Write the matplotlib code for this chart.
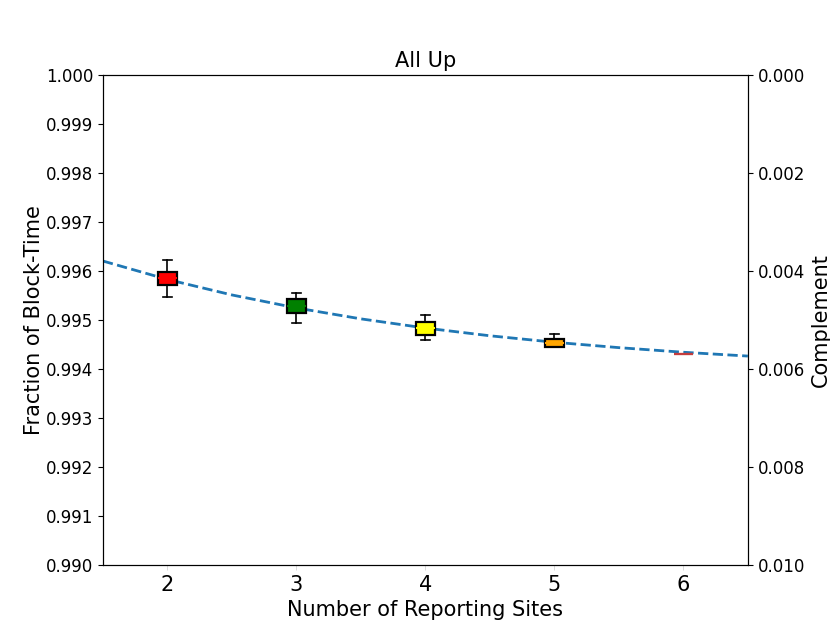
import matplotlib

matplotlib.use("Agg")

import matplotlib.pyplot as plt

# positions des sites et statistiques des boîtes
sites = [2, 3, 4, 5, 6]
whisker_low = [0.995469, 0.994939, 0.994592, 0.994449, 0.994306]
box_low = [0.995714, 0.995149, 0.994694, 0.994449, 0.994306]
box_med = [0.995850, 0.995280, 0.994830, 0.994540, 0.994306]
box_high = [0.995980, 0.995422, 0.994953, 0.994606, 0.994306]
whisker_high = [0.996224, 0.995557, 0.995108, 0.994720, 0.994306]
box_colors = ["red", "green", "yellow", "orange", "#c43c3c"]

# courbe en pointillés
curve_x = [1.5, 2.0, 2.5, 3.0, 3.5, 4.0, 4.5, 5.0, 5.5, 6.0, 6.5]
curve_y = [0.996204, 0.995828, 0.995512, 0.995247, 0.995024, 0.994837,
           0.994679, 0.994547, 0.994437, 0.994343, 0.994265]

fig = plt.figure(figsize=(8.3, 6.35), dpi=100)
ax = fig.add_axes([0.124, 0.110, 0.777, 0.772])

ax.plot(curve_x, curve_y, linestyle="--", color="#1f77b4", linewidth=2, zorder=1)

stats = []
for i in range(len(sites)):
    stats.append({
        "whislo": whisker_low[i], "q1": box_low[i], "med": box_med[i],
        "q3": box_high[i], "whishi": whisker_high[i], "fliers": [],
    })

bp = ax.bxp(stats, positions=sites, widths=0.15, patch_artist=True,
            showfliers=False, manage_ticks=False, zorder=2)
for patch, col in zip(bp["boxes"], box_colors):
    patch.set_facecolor(col)
    patch.set_edgecolor("black")
    patch.set_linewidth(1.6)
for med, col in zip(bp["medians"], box_colors):
    med.set_color(col)
    med.set_linewidth(1.5)
bp["boxes"][-1].set_edgecolor(box_colors[-1])
for w in bp["whiskers"] + bp["caps"]:
    w.set_color("black")
    w.set_linewidth(1.2)

ax.set_xlim(1.5, 6.5)
ax.set_ylim(0.990, 1.000)
ax.set_xticks(sites)
ax.set_xticklabels([str(s) for s in sites], fontsize=15)
ax.tick_params(axis="x", color="#cccccc", width=0.5, length=3.5)
ax.set_yticks([0.990 + 0.001 * i for i in range(11)])
ax.set_yticklabels(["%.3f" % (0.990 + 0.001 * i) for i in range(11)], fontsize=12)
ax.set_xlabel("Number of Reporting Sites", fontsize=15)
ax.set_ylabel("Fraction of Block-Time", fontsize=15, labelpad=1)
ax.set_title("All Up", fontsize=15)

ax2 = ax.twinx()
ax2.set_ylim(0.010, 0.000)
ax2.set_yticks([0.000, 0.002, 0.004, 0.006, 0.008, 0.010])
ax2.set_yticklabels(["0.000", "0.002", "0.004", "0.006", "0.008", "0.010"], fontsize=12)
ax2.set_ylabel("Complement", fontsize=15)

fig.savefig("out.png", dpi=100)
